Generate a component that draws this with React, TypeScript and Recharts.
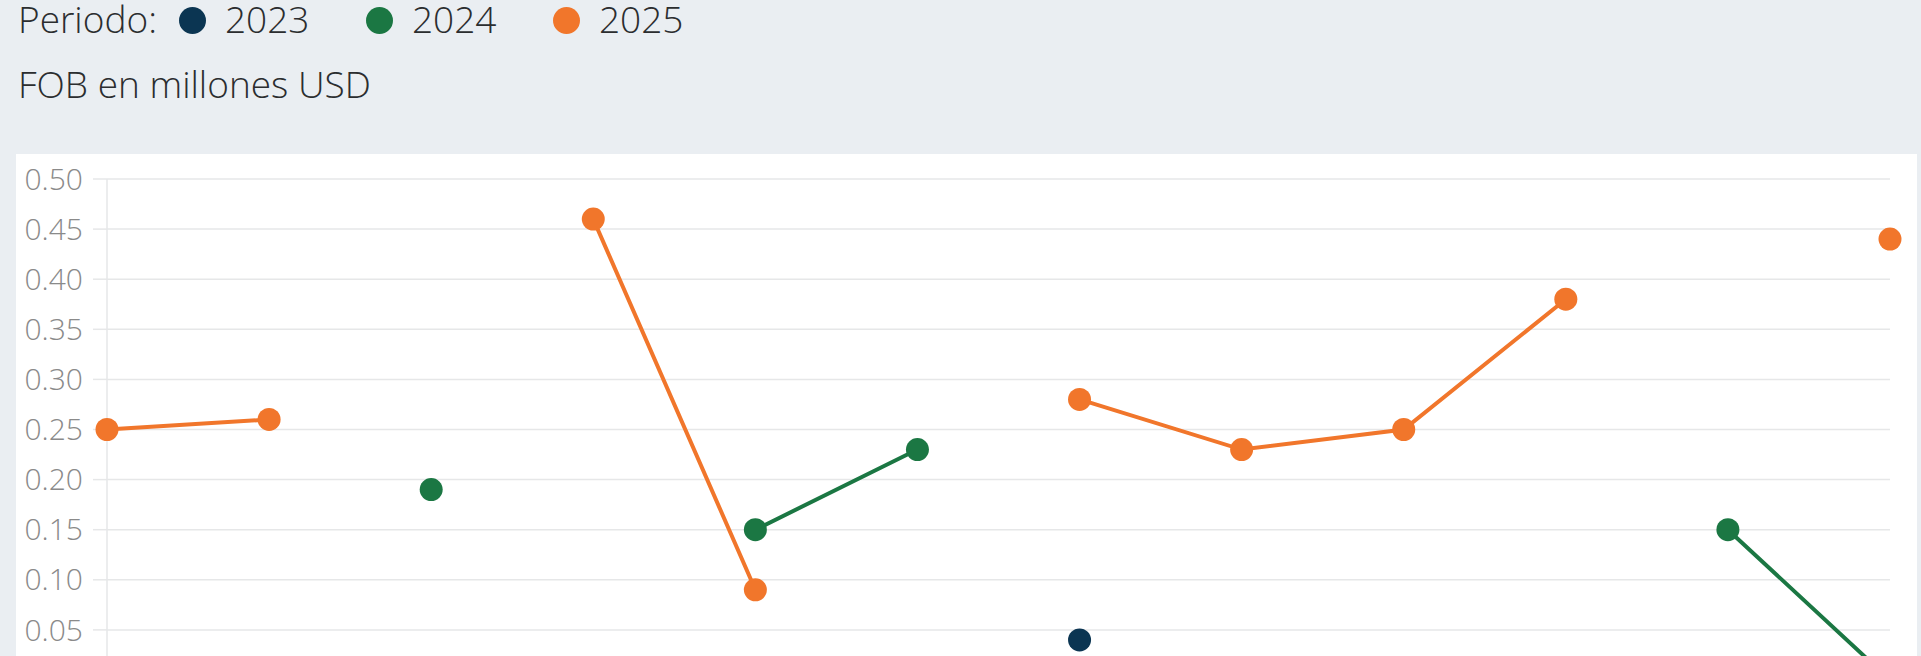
import React from 'react';
import { LineChart, Line, XAxis, YAxis, CartesianGrid } from 'recharts';

// Months (x axis, below the visible area)
const months = ['Ene', 'Feb', 'Mar', 'Abr', 'May', 'Jun', 'Jul', 'Ago', 'Sep', 'Oct', 'Nov', 'Dic'];

// FOB in millions USD per period, null where there is no value
const fob2023 = [null, null, null, null, null, null, 0.04, null, null, null, null, null];
const fob2024 = [null, null, 0.19, null, 0.15, 0.23, null, null, null, null, 0.15, 0.0];
const fob2025 = [0.25, 0.26, null, 0.46, 0.09, null, 0.28, 0.23, 0.25, 0.38, null, 0.44];

const yTicks = [0, 0.05, 0.1, 0.15, 0.2, 0.25, 0.3, 0.35, 0.4, 0.45, 0.5];

const series = [
  { key: 'p2023', label: '2023', color: '#0b3552', values: fob2023 },
  { key: 'p2024', label: '2024', color: '#1b7743', values: fob2024 },
  { key: 'p2025', label: '2025', color: '#f1762b', values: fob2025 },
];

const data = months.map((m, i) => {
  const row: Record<string, string | number | null> = { month: m };
  series.forEach((s) => {
    row[s.key] = s.values[i];
  });
  return row;
});

const FONT = '"Open Sans", sans-serif';

export default function App() {
  return (
    <div
      style={{
        position: 'relative',
        width: 1921,
        height: 656,
        overflow: 'hidden',
        background: '#eaeef2',
        fontFamily: FONT,
        color: '#2b2d2f',
      }}
    >
      <style>{'body{margin:0}'}</style>

      {/* legend */}
      <div style={{ position: 'absolute', left: 18, top: 0, height: 37, lineHeight: '37px', fontSize: 37, fontWeight: 300, whiteSpace: 'nowrap' }}>
        Periodo:
      </div>
      {series.map((s, i) => (
        <div key={s.key} style={{ position: 'absolute', left: 179 + i * 187, top: 0, height: 37, display: 'flex', alignItems: 'center' }}>
          <span
            style={{
              display: 'inline-block',
              width: 27,
              height: 27,
              borderRadius: '50%',
              background: s.color,
              marginTop: 3,
            }}
          />
          <span style={{ marginLeft: 19, fontSize: 37, lineHeight: '37px', fontWeight: 300 }}>{s.label}</span>
        </div>
      ))}

      <div style={{ position: 'absolute', left: 18, top: 65, height: 37, lineHeight: '37px', fontSize: 37, fontWeight: 300, whiteSpace: 'nowrap' }}>
        FOB en millones USD
      </div>

      {/* chart panel */}
      <div style={{ position: 'absolute', left: 16, top: 154, width: 1901, height: 620, background: '#ffffff' }}>
        <LineChart width={1901} height={606} data={data} margin={{ top: 25, right: 27, bottom: 20, left: 0 }}>
          <CartesianGrid vertical={false} stroke="#e6e7e8" strokeWidth={1.5} />
          <XAxis dataKey="month" height={60} axisLine={false} tickLine={false} tick={{ fill: '#8a8a8a', fontSize: 30, fontFamily: FONT }} />
          <YAxis
            width={91}
            domain={[0, 0.5]}
            ticks={yTicks}
            tickFormatter={(v: number) => v.toFixed(2)}
            tickSize={14}
            tickMargin={10}
            axisLine={{ stroke: '#e6e7e8', strokeWidth: 1.5 }}
            tickLine={{ stroke: '#e6e7e8', strokeWidth: 1.5 }}
            tick={{ fill: '#8a8a8a', fontSize: 30, fontFamily: FONT, fontWeight: 300 }}
          />
          {series.map((s) => (
            <Line
              key={s.key}
              dataKey={s.key}
              type="linear"
              stroke={s.color}
              strokeWidth={4}
              dot={{ r: 11.5, fill: s.color, stroke: s.color, strokeWidth: 0 }}
              activeDot={false}
              isAnimationActive={false}
            />
          ))}
        </LineChart>
      </div>
    </div>
  );
}
